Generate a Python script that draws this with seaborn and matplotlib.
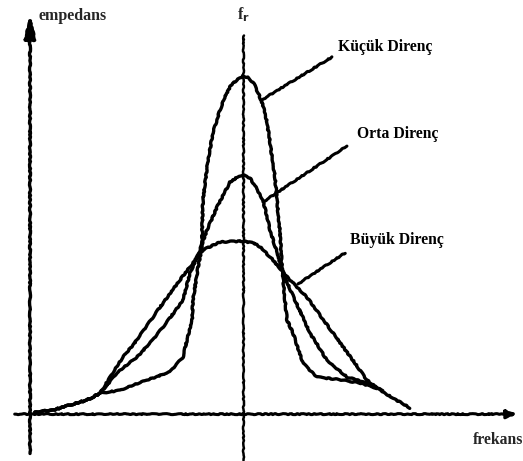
import numpy as np
import pandas as pd
import matplotlib.pyplot as plt
import seaborn as sns

# frequency relative to resonance (f_r = 100), impedance relative (peak of small R = 100)
kucuk_f = [2.3, 10.8, 18.8, 26.8, 32.9, 42.3, 54.9, 65.7, 71.8, 73.7, 76.1, 76.5, 78.9, 80.8,
           80.8, 81.2, 83.6, 85.9, 89.2, 92.0, 94.4, 97.2, 100.0, 102.8, 105.2, 107.5, 109.4,
           111.3, 112.7, 115.0, 116.4, 117.4, 118.3, 119.7, 120.7, 123.5, 128.2, 134.7, 147.0,
           154.9, 162.9]
kucuk_z = [0.6, 1.2, 2.7, 4.2, 6.2, 7.1, 10.1, 12.5, 16.9, 22.0, 27.9, 33.8, 43.6, 49.6,
           54.6, 63.5, 75.4, 83.4, 90.2, 94.7, 97.6, 99.1, 100.3, 99.7, 97.9, 94.7, 91.5,
           86.6, 80.4, 70.3, 60.5, 53.7, 43.6, 33.8, 27.9, 24.0, 15.1, 11.0, 10.1,
           9.2, 7.7]

orta_f = [2.3, 10.8, 18.8, 26.8, 32.9, 40.8, 50.2, 57.7, 65.7, 71.8, 75.1, 79.8, 83.1, 87.8,
          93.9, 98.1, 100.0, 103.3, 106.0, 109.4, 112.7, 116.0, 118.8, 124.4, 131.5, 139.4,
          148.8, 158.2, 165.7]
orta_z = [0.6, 1.2, 2.7, 4.2, 6.2, 12.2, 16.9, 22.0, 28.5, 33.8, 41.8, 48.7, 54.6, 61.4,
          68.8, 70.6, 70.9, 70.0, 67.3, 63.5, 54.6, 47.8, 41.8, 33.8, 24.0, 16.0,
          11.0, 9.2, 7.1]

buyuk_f = [2.3, 10.8, 18.8, 26.8, 32.9, 37.6, 43.7, 50.2, 60.1, 70.4, 76.5, 81.2, 89.2, 94.8,
           100.0, 105.2, 108.0, 114.1, 120.7, 130.0, 142.3, 151.6, 158.2, 164.3, 178.4]
buyuk_z = [0.6, 1.2, 2.7, 4.2, 6.2, 11.0, 16.9, 22.0, 30.9, 39.8, 44.8, 48.7, 51.0, 51.2,
           51.3, 50.7, 49.6, 45.7, 40.7, 34.7, 24.0, 16.0, 10.1, 7.1, 1.8]

labels = ["Küçük Direnç", "Orta Direnç", "Büyük Direnç"]
label_xy = [(166.7, 108.9), (172.8, 83.1), (172.3, 51.6)]
leader_from = [(108.9, 93.2), (109.4, 62.9), (125.8, 38.6)]
leader_to = [(141.8, 105.9), (148.8, 79.5), (147.9, 47.8)]

df = pd.concat([
    pd.DataFrame({"f": kucuk_f, "z": kucuk_z, "egri": labels[0]}),
    pd.DataFrame({"f": orta_f, "z": orta_z, "egri": labels[1]}),
    pd.DataFrame({"f": buyuk_f, "z": buyuk_z, "egri": labels[2]}),
])

sns.set_style("white")
plt.rcParams["path.sketch"] = (0.5, 12, 6)

fig = plt.figure(figsize=(5.23, 4.61), dpi=100)
ax = fig.add_axes([0, 0, 1, 1])

sns.lineplot(data=df, x="f", y="z", hue="egri", palette=["black"] * 3, sort=False,
             estimator=None, linewidth=2.4, legend=False, ax=ax)

# axes drawn by hand
ax.annotate("", xy=(0, 119.5), xytext=(0, -12.5),
            arrowprops=dict(arrowstyle="-|>,head_length=1.4,head_width=0.35", color="black", lw=2.4))
ax.annotate("", xy=(230, 0), xytext=(-8.5, 0),
            arrowprops=dict(arrowstyle="-|>,head_length=0.6,head_width=0.25", color="black", lw=2.2))
ax.plot([100, 100], [-13.5, 112.5], color="black", lw=1.8)

for lab, xy, p0, p1 in zip(labels, label_xy, leader_from, leader_to):
    ax.plot([p0[0], p1[0]], [p0[1], p1[1]], color="black", lw=2.2)
    ax.text(xy[0], xy[1], lab, ha="center", va="center", fontsize=11.3,
            fontweight="bold", family="Liberation Serif", color="black")

ax.text(3.8, 118.1, "empedans", ha="left", va="center", fontsize=11.5,
        fontweight="bold", family="Liberation Serif")
ax.text(100, 118.6, r"f$_\mathbf{r}$", ha="center", va="center", fontsize=11.5,
        fontweight="bold", family="Liberation Serif")
ax.text(231.5, -7.7, "frekans", ha="right", va="center", fontsize=11.3,
        fontweight="bold", family="Liberation Serif")

ax.set_xlim(-14.1, 231.5)
ax.set_ylim(-13.9, 122.8)
ax.set_axis_off()

fig.savefig("out.png", dpi=100)
